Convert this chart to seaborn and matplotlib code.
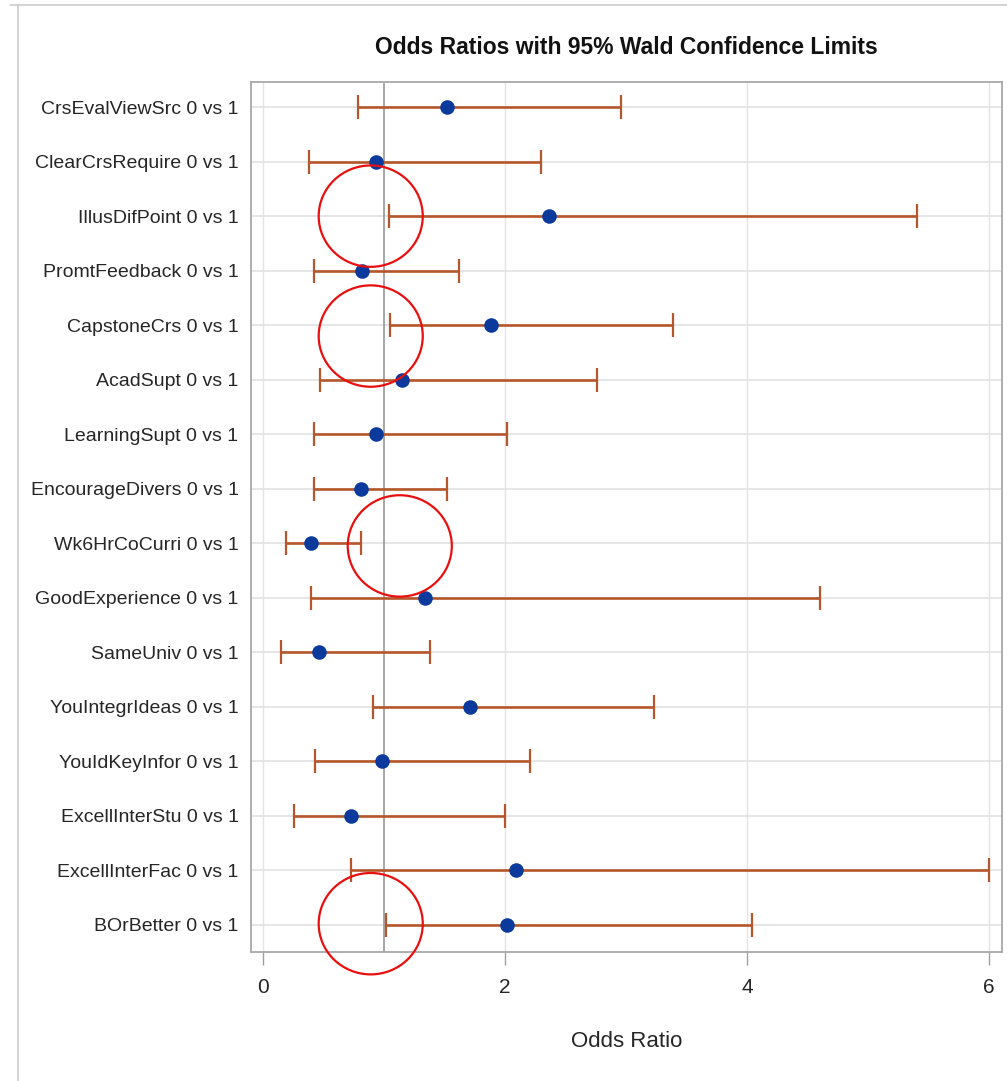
import matplotlib
matplotlib.use("Agg")
import matplotlib.pyplot as plt
from matplotlib.patches import Ellipse
from matplotlib.lines import Line2D
import pandas as pd
import seaborn as sns

# effects, top to bottom
effects = ["CrsEvalViewSrc", "ClearCrsRequire", "IllusDifPoint", "PromtFeedback",
           "CapstoneCrs", "AcadSupt", "LearningSupt", "EncourageDivers",
           "Wk6HrCoCurri", "GoodExperience", "SameUniv", "YouIntegrIdeas",
           "YouIdKeyInfor", "ExcellInterStu", "ExcellInterFac", "BOrBetter"]
odds_ratio = [1.52, 0.93, 2.36, 0.82, 1.88, 1.15, 0.93, 0.81,
              0.40, 1.34, 0.46, 1.71, 0.98, 0.73, 2.09, 2.02]
lower_cl = [0.785, 0.38, 1.04, 0.42, 1.05, 0.47, 0.42, 0.42,
            0.19, 0.40, 0.15, 0.91, 0.43, 0.26, 0.73, 1.02]
upper_cl = [2.96, 2.30, 5.40, 1.62, 3.39, 2.76, 2.02, 1.52,
            0.81, 4.60, 1.38, 3.23, 2.21, 2.00, 6.00, 4.04]
x_ticks = [0, 2, 4, 6]

# red highlight circles (x centre, row centre)
highlights = [(0.89, 2.0), (0.89, 4.2), (1.13, 8.05), (0.89, 14.98)]

df = pd.DataFrame({"label": [e + " 0 vs 1" for e in effects],
                   "OR": odds_ratio, "lo": lower_cl, "hi": upper_cl})
df["row"] = range(len(df))

sns.set_style("white")
plt.rcParams["font.family"] = ["Liberation Sans", "DejaVu Sans"]

fig = plt.figure(figsize=(10.07, 10.81), dpi=100)
ax = fig.add_axes([0.2493, 0.1193, 0.7458, 0.8048])

bar_col = "#B5562B"
dot_col = "#0B3A9C"
txt_col = "#262626"

for r in df["row"]:
    ax.axhline(r, color="#E4E4E4", lw=1.3, zorder=0)
for t in x_ticks:
    ax.axvline(t, color="#E4E4E4", lw=1.0, zorder=0)
ax.axvline(1, color="#8E8E8E", lw=1.1, zorder=1)

ax.errorbar(df["OR"], df["row"],
            xerr=[df["OR"] - df["lo"], df["hi"] - df["OR"]],
            fmt="none", ecolor=bar_col, elinewidth=1.9, capsize=8.3,
            capthick=1.6, zorder=2)
sns.scatterplot(data=df, x="OR", y="row", ax=ax, color=dot_col, s=110,
                edgecolor=dot_col, linewidth=0, zorder=3)

for cx, cy in highlights:
    ax.add_patch(Ellipse((cx, cy), width=0.86, height=1.86, fill=False,
                         edgecolor="#E8100F", lw=1.6, clip_on=False, zorder=5))

ax.set_xlim(-0.099, 6.107)
ax.set_ylim(15.5, -0.46)
ax.set_yticks(df["row"])
ax.set_yticklabels(df["label"], fontsize=14, color=txt_col)
ax.set_xticks(x_ticks)
ax.set_xticklabels([str(t) for t in x_ticks], fontsize=15, color=txt_col)
ax.tick_params(axis="y", length=0, pad=9)
ax.tick_params(axis="x", bottom=True, length=9, width=1, color="#A0A0A0",
               pad=10, direction="out")
ax.set_xlabel("Odds Ratio", fontsize=16, color=txt_col, labelpad=24)
ax.set_ylabel("")
for s in ax.spines.values():
    s.set_color("#A8A8A8")
    s.set_linewidth(1.3)
ax.set_title("Odds Ratios with 95% Wald Confidence Limits", fontsize=16.5,
             fontweight="bold", color="#111111", pad=20)

# screenshot border
fig.add_artist(Line2D([18 / 1007, 18 / 1007], [0, 1 - 5 / 1081],
                      color="#CCCCCC", lw=1.2))
fig.add_artist(Line2D([10 / 1007, 1], [1 - 5 / 1081, 1 - 5 / 1081],
                      color="#CCCCCC", lw=1.2))

fig.savefig("out.png", dpi=100)
